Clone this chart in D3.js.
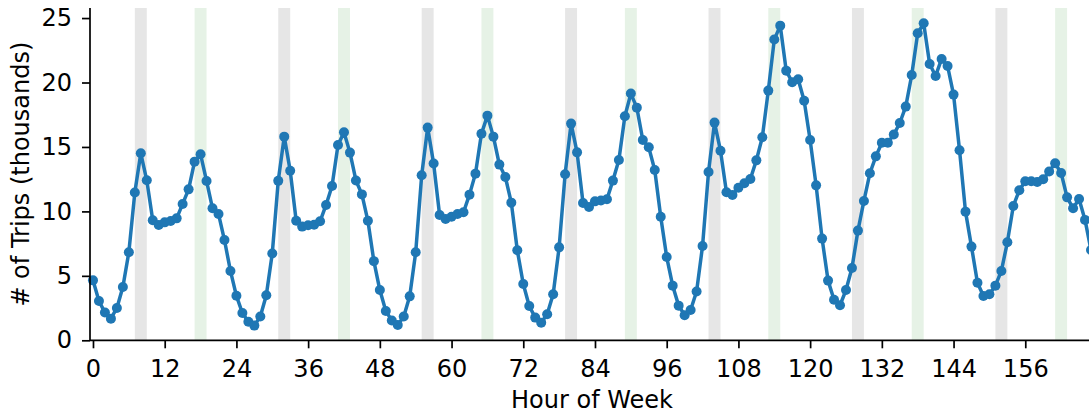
<!DOCTYPE html>
<html>
<head>
<meta charset="utf-8">
<script src="https://cdn.jsdelivr.net/npm/d3@7/dist/d3.min.js"></script>
<style>
  html, body { margin: 0; padding: 0; background: #fff; overflow: hidden; }
  svg { display: block; font-family: "DejaVu Sans", sans-serif; }
</style>
</head>
<body>
<svg id="chart" width="1089" height="415"></svg>
<script>
// Hourly trip counts (thousands) across one week, hour 0 = start of Monday
const hours = d3.range(168);
const trips = [
  4.65, 3.05, 2.15, 1.68, 2.51, 4.14, 6.83, 11.46, 14.51, 12.41, 9.31, 8.95,
  9.15, 9.26, 9.46, 10.58, 11.71, 13.86, 14.43, 12.36, 10.24, 9.80, 7.78, 5.38,
  3.45, 2.12, 1.44, 1.14, 1.84, 3.49, 6.74, 12.37, 15.80, 13.16, 9.28, 8.82,
  8.92, 8.96, 9.23, 10.50, 11.97, 15.15, 16.14, 14.56, 12.40, 11.32, 9.27, 6.14,
  3.90, 2.28, 1.53, 1.19, 1.84, 3.41, 6.83, 12.80, 16.50, 13.71, 9.72, 9.41,
  9.59, 9.80, 9.93, 11.30, 12.93, 16.03, 17.43, 15.80, 13.63, 12.67, 10.68, 6.98,
  4.37, 2.66, 1.76, 1.37, 2.02, 3.57, 7.21, 12.88, 16.81, 14.58, 10.65, 10.34,
  10.78, 10.84, 10.94, 12.39, 13.99, 17.38, 19.14, 18.05, 15.54, 14.97, 13.21, 9.59,
  6.46, 4.24, 2.69, 1.94, 2.35, 3.78, 7.32, 13.06, 16.89, 14.71, 11.48, 11.27,
  11.84, 12.18, 12.52, 13.96, 15.75, 19.37, 23.33, 24.41, 20.92, 20.02, 20.25, 18.59,
  15.54, 12.02, 7.89, 4.63, 3.15, 2.72, 3.90, 5.61, 8.51, 10.81, 12.96, 14.27,
  15.33, 15.33, 15.96, 16.86, 18.13, 20.58, 23.82, 24.59, 21.44, 20.51, 21.83, 21.28,
  19.06, 14.74, 9.98, 7.27, 4.47, 3.44, 3.57, 4.24, 5.38, 7.60, 10.42, 11.64,
  12.34, 12.34, 12.28, 12.49, 13.09, 13.73, 12.98, 11.09, 10.24, 10.96, 9.34, 7.0
];

// Rush-hour windows repeated each day: morning [7, 9) and evening [17, 19)
const days = d3.range(7);
const morningWindow = [7, 9];
const eveningWindow = [17, 19];

const xTicks = d3.range(0, 168, 12);
const yTicks = [0, 5, 10, 15, 20, 25];

const xLabel = "Hour of Week";
const yLabel = "# of Trips (thousands)";

const margin = { left: 90, top: 8, right: -5, bottom: 74.7 };
const width = 1089, height = 415;
const innerW = width - margin.left - margin.right;
const innerH = height - margin.top - margin.bottom;
const fontSize = "24px";

const svg = d3.select("#chart");
const g = svg.append("g").attr("transform", `translate(${margin.left},${margin.top})`);

const x = d3.scaleLinear().domain([-0.5, 167.5]).range([0, innerW]);
const y = d3.scaleLinear().domain([0, 25.78]).range([innerH, 0]);

// Shaded rush-hour bands
const bands = [];
days.forEach(d => {
  bands.push({ start: d * 24 + morningWindow[0], end: d * 24 + morningWindow[1], fill: "#e6e6e6" });
  bands.push({ start: d * 24 + eveningWindow[0], end: d * 24 + eveningWindow[1], fill: "#e6f2e6" });
});
g.selectAll("rect.band")
  .data(bands)
  .join("rect")
  .attr("class", "band")
  .attr("x", d => x(d.start))
  .attr("width", d => x(d.end) - x(d.start))
  .attr("y", 0)
  .attr("height", innerH)
  .attr("fill", d => d.fill);

// Trip line with hourly markers
const series = hours.map((h, i) => ({ h, v: trips[i] }));
const line = d3.line().x(d => x(d.h)).y(d => y(d.v));

g.append("path")
  .datum(series)
  .attr("fill", "none")
  .attr("stroke", "#1f77b4")
  .attr("stroke-width", 3.5)
  .attr("stroke-linejoin", "round")
  .attr("d", line);

g.selectAll("circle.pt")
  .data(series)
  .join("circle")
  .attr("class", "pt")
  .attr("cx", d => x(d.h))
  .attr("cy", d => y(d.v))
  .attr("r", 5)
  .attr("fill", "#1f77b4");

// Axes
const xAxis = d3.axisBottom(x).tickValues(xTicks).tickSize(8).tickPadding(12);
const yAxis = d3.axisLeft(y).tickValues(yTicks).tickSize(8).tickPadding(10);

const gx = g.append("g").attr("transform", `translate(0,${innerH})`).call(xAxis);
const gy = g.append("g").call(yAxis);

[gx, gy].forEach(a => {
  a.selectAll(".domain").attr("stroke", "#000").attr("stroke-width", 1.7);
  a.selectAll(".tick line").attr("stroke", "#000").attr("stroke-width", 1.7);
  a.selectAll(".tick text")
    .attr("fill", "#000")
    .style("font-family", "'DejaVu Sans', sans-serif")
    .style("font-size", fontSize);
});
// plain spine lines without outer tick stubs
gx.select(".domain").attr("d", `M${x.range()[0]},0H${x.range()[1]}`);
gy.select(".domain").attr("d", `M0,${y.range()[0]}V${y.range()[1]}`);

// Axis titles
svg.append("text")
  .attr("x", margin.left + innerW / 2)
  .attr("y", 408)
  .attr("text-anchor", "middle")
  .style("font-size", fontSize)
  .attr("fill", "#000")
  .text(xLabel);

svg.append("text")
  .attr("transform", `translate(29,${margin.top + innerH / 2}) rotate(-90)`)
  .attr("text-anchor", "middle")
  .style("font-size", fontSize)
  .attr("fill", "#000")
  .text(yLabel);
</script>
</body>
</html>
